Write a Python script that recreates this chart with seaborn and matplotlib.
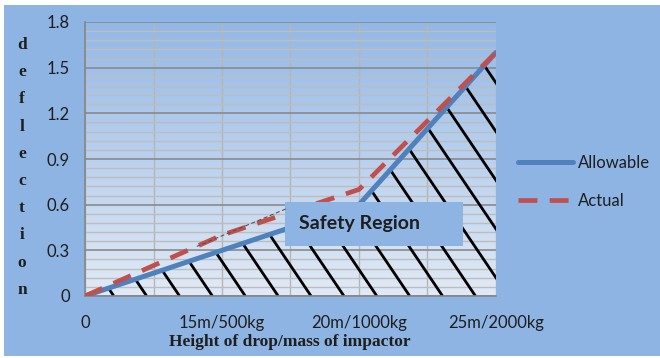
import numpy as np
import pandas as pd
import matplotlib
matplotlib.use("Agg")
import matplotlib.pyplot as plt
import seaborn as sns
from matplotlib.patches import Rectangle
from matplotlib.lines import Line2D
from matplotlib.colors import LinearSegmentedColormap

# ---- data ----
categories = ["0", "15m/500kg", "20m/1000kg", "25m/2000kg"]
allowable = [0.0, 0.3, 0.6, 1.6]
actual = [0.0, 0.4, 0.7, 1.6]
y_ticks = [0, 0.3, 0.6, 0.9, 1.2, 1.5, 1.8]
y_tick_labels = ["0", "0.3", "0.6", "0.9", "1.2", "1.5", "1.8"]
x_title = "Height of drop/mass of impactor"
y_title = "deflection"
region_label = "Safety Region"

df = pd.DataFrame({
    "pos": np.arange(len(categories)),
    "category": categories,
    "Allowable": allowable,
    "Actual": actual,
})

sns.set_theme(style="white")
plt.rcParams["font.family"] = ["Lato", "DejaVu Sans"]

BG = "#8EB4E3"
BLUE = "#4F81BD"
RED = "#C0504D"
TXT = "#1E1E1E"

W, H = 660, 358
fig = plt.figure(figsize=(W / 100, H / 100), dpi=100)
fig.patch.set_facecolor("white")
fig.add_artist(Rectangle((4 / W, 2 / H), 1 - 4 / W, 1 - 7 / H,
                         transform=fig.transFigure, facecolor=BG,
                         edgecolor="none", zorder=-5))

ax = fig.add_axes([85 / W, 62 / H, 411 / W, 274 / H])
ax.set_facecolor("none")

xmax = len(categories) - 1
ymax = y_ticks[-1]

# plot-area gradient fill
cmap = LinearSegmentedColormap.from_list("plotarea", ["#E1EAF6", "#93B8E6"])
grad = np.linspace(0, 1, 256).reshape(-1, 1)
ax.imshow(grad, extent=[0, xmax, 0, ymax], origin="lower", aspect="auto",
          cmap=cmap, zorder=-2, interpolation="bicubic")

# gridlines
ax.set_xlim(0, xmax)
ax.set_ylim(0, ymax)
ax.set_xticks(df["pos"])
ax.set_xticklabels(categories)
ax.set_xticks(np.arange(0.5, xmax, 1.0), minor=True)
ax.set_yticks(y_ticks)
ax.set_yticklabels(y_tick_labels)
ax.set_yticks(np.arange(0, ymax + 1e-9, 0.06), minor=True)
ax.set_axisbelow(True)
ax.grid(True, which="minor", axis="y", color="#BDBDBD", lw=1.0)
ax.grid(True, which="major", axis="y", color="#8A8A8A", lw=1.2)
ax.grid(True, which="both", axis="x", color="#B5B5B5", lw=1.0)

# hatched region beneath the allowable curve
region = ax.fill_between(df["pos"], 0, df["Allowable"], facecolor="none",
                         edgecolor="none", zorder=1)
clip = region.get_paths()[0]
k = 1.2 * (274 / ymax) / (411 / xmax)  # slope in data units
for x0 in np.arange(0.21, xmax + ymax / k + 0.3, 0.24):
    ln, = ax.plot([x0, x0 - ymax / k], [0, ymax], color="black", lw=2.0,
                  solid_capstyle="butt", zorder=2)
    ln.set_clip_path(clip, ax.transData)

# series lines
sns.lineplot(data=df, x="pos", y="Allowable", ax=ax, color=BLUE, lw=3.6,
             label="Allowable", legend=False, zorder=4)
sns.lineplot(data=df, x="pos", y="Actual", ax=ax, color=RED, lw=3.4,
             dashes=False, label="Actual", legend=False, zorder=5)
ax.lines[-1].set_dashes((4.0, 2.6))

# spines and ticks
for s in ["top", "right"]:
    ax.spines[s].set_visible(False)
for s in ["left", "bottom"]:
    ax.spines[s].set_color("#868686")
    ax.spines[s].set_linewidth(1.2)
ax.tick_params(axis="y", which="major", direction="out", length=6,
               width=1.2, color="#868686", pad=5, labelsize=12,
               labelcolor=TXT)
ax.tick_params(axis="x", which="major", direction="out", length=5,
               width=1.2, color="#868686", pad=9, labelsize=12,
               labelcolor=TXT)
ax.tick_params(which="minor", length=0)
ax.set_xlabel("")
ax.set_ylabel("")

# text box
ax.add_patch(Rectangle((200 / 411, 50 / 274), 178 / 411, 44 / 274,
                       transform=ax.transAxes, facecolor=BG,
                       edgecolor="none", zorder=6))
ax.text(214 / 411, 72 / 274, region_label, transform=ax.transAxes,
        ha="left", va="center", fontsize=14, fontweight="bold",
        color=TXT, zorder=7)
xa = 0.8
ax.annotate("", xy=(xa, np.interp(xa, df["pos"], df["Actual"])),
            xytext=(203 / 411, 88 / 274), textcoords="axes fraction",
            arrowprops=dict(arrowstyle="-", color="#555555", lw=0.8,
                            linestyle=(0, (3, 3))), zorder=6)

# axis titles
serif = ["Liberation Serif", "DejaVu Serif"]
fig.text(290 / W, 1 - 342 / H, x_title, ha="center", va="center",
         fontsize=12.5, fontweight="bold", family=serif, color=TXT)
for i, ch in enumerate(y_title):
    fig.text(22 / W, 1 - (45 + i * 27.2) / H, ch, ha="center", va="center",
             fontsize=12.5, fontweight="bold", family=serif, color=TXT)

# legend
handles = [Line2D([], [], color=BLUE, lw=3.6),
           Line2D([], [], color=RED, lw=3.4, dashes=(4.0, 2.6))]
fig.legend(handles, ["Allowable", "Actual"], loc="upper left",
           bbox_to_anchor=(518 / W, 1 - 155 / H), frameon=False,
           fontsize=12, handlelength=3.3, handletextpad=0.3,
           labelspacing=1.3, borderpad=0, borderaxespad=0,
           labelcolor=TXT)

fig.savefig("out.png", dpi=100, facecolor=fig.get_facecolor())
